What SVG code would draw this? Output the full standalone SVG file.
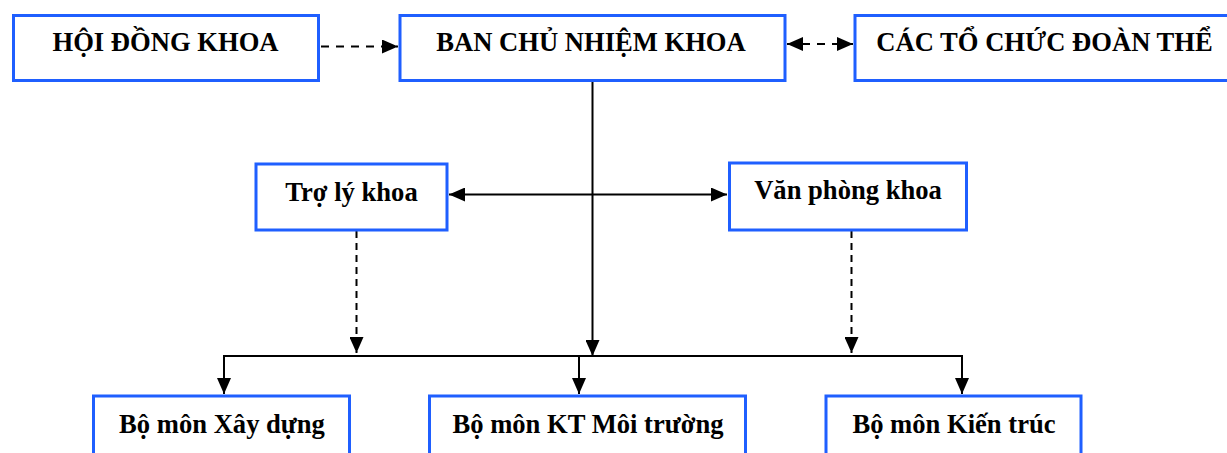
<svg xmlns="http://www.w3.org/2000/svg" width="1227" height="453" viewBox="0 0 1227 453">
<style>
.box{fill:#fff;stroke:#1F5FFF;stroke-width:3}
.t{font-family:"Liberation Serif","Times New Roman",serif;font-weight:bold;font-size:26.6px;fill:#000;text-anchor:middle}
.ln{stroke:#000;stroke-width:2;fill:none}
.dh{stroke-dasharray:8 7}
.dv{stroke-dasharray:7 5}
</style>
<defs>
<marker id="ah" markerUnits="userSpaceOnUse" markerWidth="16" markerHeight="14" viewBox="0 0 16 14" refX="16" refY="7" orient="auto-start-reverse">
<path d="M0,0 L16,7 L0,14 Z" fill="#000"/>
</marker>
</defs>
<g id="connectors">
<line class="ln dh" x1="321" y1="46.5" x2="398" y2="46.5" marker-end="url(#ah)"/>
<line class="ln dh" x1="787" y1="44" x2="853" y2="44" marker-start="url(#ah)" marker-end="url(#ah)"/>
<line class="ln" x1="592.5" y1="82" x2="592.5" y2="356" marker-end="url(#ah)"/>
<line class="ln" x1="449" y1="194.5" x2="727" y2="194.5" marker-start="url(#ah)" marker-end="url(#ah)"/>
<line class="ln dv" x1="356.5" y1="231" x2="356.5" y2="353" marker-end="url(#ah)"/>
<line class="ln dv" x1="851.5" y1="231" x2="851.5" y2="353" marker-end="url(#ah)"/>
<line class="ln" x1="223" y1="356" x2="963" y2="356"/>
<line class="ln" x1="224" y1="356" x2="224" y2="394" marker-end="url(#ah)"/>
<line class="ln" x1="579" y1="356" x2="579" y2="394" marker-end="url(#ah)"/>
<line class="ln" x1="962" y1="356" x2="962" y2="394" marker-end="url(#ah)"/>
</g>
<g id="hoi-dong-khoa">
<rect class="box" x="13.5" y="15.5" width="305" height="65"/>
<text class="t" x="165.5" y="51">HỘI ĐỒNG KHOA</text>
</g>
<g id="ban-chu-nhiem-khoa">
<rect class="box" x="400" y="15.5" width="385" height="65"/>
<text class="t" x="591" y="51">BAN CHỦ NHIỆM KHOA</text>
</g>
<g id="cac-to-chuc-doan-the">
<rect class="box" x="855" y="15.5" width="390" height="65"/>
<text class="t" x="1044.5" y="51">CÁC TỔ CHỨC ĐOÀN THỂ</text>
</g>
<g id="tro-ly-khoa">
<rect class="box" x="256" y="164" width="191" height="66"/>
<text class="t" x="351.5" y="201">Trợ lý khoa</text>
</g>
<g id="van-phong-khoa">
<rect class="box" x="729.5" y="163" width="237" height="67"/>
<text class="t" x="848" y="198.5">Văn phòng khoa</text>
</g>
<g id="bo-mon-xay-dung">
<rect class="box" x="93.5" y="396" width="256" height="80"/>
<text class="t" x="222" y="433">Bộ môn Xây dựng</text>
</g>
<g id="bo-mon-kt-moi-truong">
<rect class="box" x="429.5" y="396" width="316" height="80"/>
<text class="t" x="588" y="433">Bộ môn KT Môi trường</text>
</g>
<g id="bo-mon-kien-truc">
<rect class="box" x="826" y="396" width="255" height="80"/>
<text class="t" x="954" y="433">Bộ môn Kiến trúc</text>
</g>
</svg>
